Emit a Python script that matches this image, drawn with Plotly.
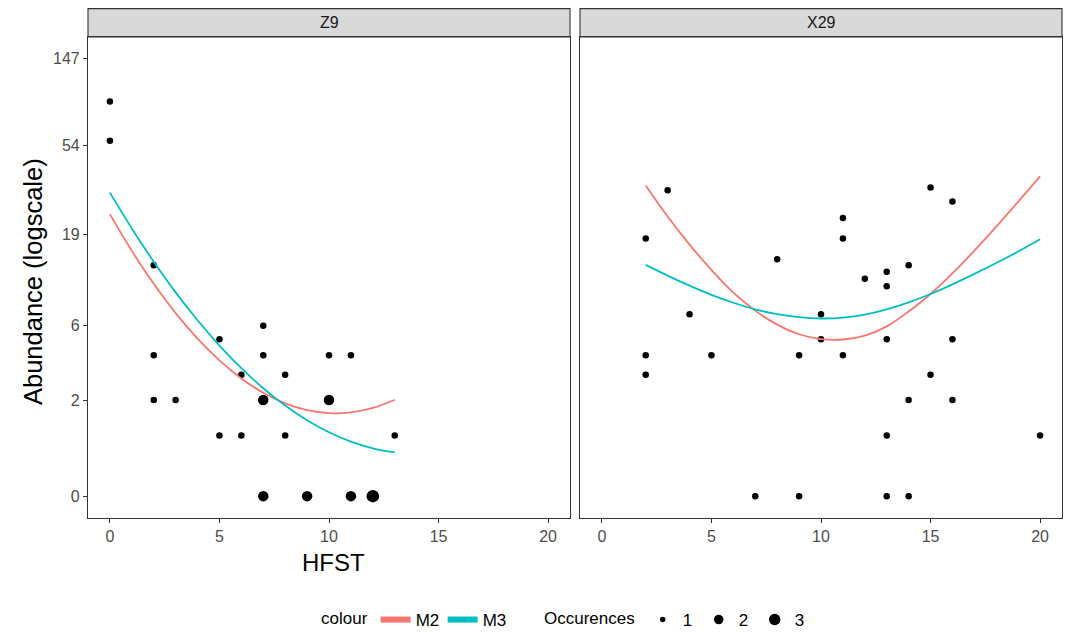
import numpy as np
import plotly.graph_objects as go

# page offset (browser body margin) and figure size
OFF = 8
W, H = 1074 - OFF, 638 - OFF

# ---------------- data ----------------
panels = ["Z9", "X29"]

# Z9 observed points: HFST, abundance, occurrences
z9_hfst = [0, 0, 2, 2, 2, 3, 5, 5, 6, 6, 7, 7, 7, 7, 8, 8, 9, 10, 10, 11, 11, 12, 13]
z9_abund = [90, 57, 13, 4, 2, 2, 5, 1, 3, 1, 6, 4, 2, 0, 3, 1, 0, 4, 2, 4, 0, 0, 1]
z9_occ = [1, 1, 1, 1, 1, 1, 1, 1, 1, 1, 1, 1, 2, 2, 1, 1, 2, 1, 2, 1, 2, 3, 1]

# X29 observed points
x29_hfst = [3, 2, 8, 4, 10, 10, 15, 16, 11, 11, 14, 12, 13, 13, 13, 16, 2, 5, 9, 11,
            2, 15, 14, 16, 13, 20, 7, 9, 13, 14]
x29_abund = [32, 18, 14, 7, 7, 5, 33, 28, 23, 18, 13, 11, 12, 10, 5, 5, 4, 4, 4, 4,
             3, 3, 2, 2, 1, 1, 0, 0, 0, 0]
x29_occ = [1] * 30

# fitted curves (values on the log(abundance + 1) scale)
z9_curve_x = [0, 1, 2, 3, 4, 5, 6, 7, 8, 9, 10, 11, 12, 13]
z9_m2_log = [3.223, 2.803, 2.426, 2.091, 1.800, 1.551, 1.345, 1.182, 1.061, 0.984, 0.949, 0.957, 1.008, 1.102]
z9_m3_log = [3.469, 3.059, 2.679, 2.329, 2.010, 1.721, 1.462, 1.233, 1.035, 0.867, 0.730, 0.623, 0.546, 0.500]

x29_curve_x = [2, 3, 4, 5, 6, 7, 8, 9, 10, 11, 12, 13, 14, 15, 16, 17, 18, 19, 20]
x29_m2_log = [3.55, 3.195, 2.875, 2.585, 2.325, 2.12, 1.96, 1.85, 1.795, 1.79, 1.835, 1.94, 2.11, 2.31, 2.545, 2.805, 3.08, 3.365, 3.655]
x29_m3_log = [2.643, 2.52, 2.405, 2.30, 2.21, 2.135, 2.08, 2.045, 2.03, 2.04, 2.075, 2.135, 2.215, 2.31, 2.42, 2.54, 2.665, 2.795, 2.935]

y_tick_labels = [0, 2, 6, 19, 54, 147]
x_ticks = [0, 5, 10, 15, 20]
occ_levels = [1, 2, 3]
models = ["M2", "M3"]

# ---------------- styles ----------------
model_colors = {"M2": "#F8766D", "M3": "#00BFC4"}
occ_sizes = {1: 6.5, 2: 10.5, 3: 12.5}
FONT = "Liberation Sans, Arial, sans-serif"


def px_x(p):
    return (p - OFF) / W


def px_y(p):
    return 1 - (p - OFF) / H


fig = go.Figure()

panel_data = [
    ("x", "y", z9_hfst, z9_abund, z9_occ, z9_curve_x, {"M2": z9_m2_log, "M3": z9_m3_log}),
    ("x2", "y2", x29_hfst, x29_abund, x29_occ, x29_curve_x, {"M2": x29_m2_log, "M3": x29_m3_log}),
]

for xa, ya, hx, ab, oc, cx, curves in panel_data:
    sizes = [occ_sizes[o] for o in oc]
    fig.add_trace(go.Scatter(
        x=hx, y=np.log1p(np.array(ab, dtype=float)), mode="markers",
        marker=dict(color="#000000", size=sizes, line=dict(width=0), opacity=1),
        xaxis=xa, yaxis=ya, showlegend=False, hoverinfo="skip"))
    for m in models:
        fig.add_trace(go.Scatter(
            x=cx, y=curves[m], mode="lines",
            line=dict(color=model_colors[m], width=1.8, shape="spline", smoothing=1.0),
            xaxis=xa, yaxis=ya, showlegend=False, hoverinfo="skip"))

# legend-only entries
for m in models:
    fig.add_trace(go.Scatter(
        x=[None], y=[None], mode="lines", name=m,
        line=dict(color=model_colors[m], width=6),
        legend="legend", showlegend=True))
for o in occ_levels:
    fig.add_trace(go.Scatter(
        x=[None], y=[None], mode="markers", name=str(o),
        marker=dict(color="#000000", size=occ_sizes[o] - 1),
        legend="legend2", showlegend=True))

# ---------------- layout ----------------
top_px, bot_px = 37, 518
p1 = (88, 570)
p2 = (580, 1062)
ydom = [px_y(bot_px), px_y(top_px)]

y_lo, y_hi = 0.0, float(np.log1p(147))
pad = 0.05 * (y_hi - y_lo)
yrange = [y_lo - pad, y_hi + pad]

axis_common = dict(
    showline=True, mirror=True, linecolor="#333333", linewidth=1.1,
    showgrid=False, zeroline=False,
    ticks="outside", ticklen=4, tickwidth=1, tickcolor="#333333",
    tickfont=dict(family=FONT, size=16, color="#4D4D4D"),
)

fig.update_layout(
    width=W, height=H,
    margin=dict(l=0, r=0, t=0, b=0),
    paper_bgcolor="white", plot_bgcolor="white",
    font=dict(family=FONT, color="#000000"),
    xaxis=dict(domain=[px_x(p1[0]), px_x(p1[1])], range=[-1, 21],
               tickvals=x_ticks, ticktext=[str(v) for v in x_ticks], anchor="y", **axis_common),
    xaxis2=dict(domain=[px_x(p2[0]), px_x(p2[1])], range=[-1, 21],
                tickvals=x_ticks, ticktext=[str(v) for v in x_ticks], anchor="y2", **axis_common),
    yaxis=dict(domain=ydom, range=yrange, anchor="x",
               tickvals=list(np.log1p(np.array(y_tick_labels, dtype=float))),
               ticktext=[str(v) for v in y_tick_labels], **axis_common),
    yaxis2=dict(domain=ydom, range=yrange, anchor="x2", matches="y",
                **{**axis_common, "ticks": "", "showticklabels": False}),
    legend=dict(
        orientation="h", x=px_x(319), y=px_y(620), xanchor="left", yanchor="middle",
        title=dict(text="colour", side="left", font=dict(family=FONT, size=17)),
        font=dict(family=FONT, size=17), bgcolor="rgba(0,0,0,0)",
        entrywidth=22, entrywidthmode="pixels", tracegroupgap=0),
    legend2=dict(
        orientation="h", x=px_x(542), y=px_y(620), xanchor="left", yanchor="middle",
        title=dict(text="Occurences", side="left", font=dict(family=FONT, size=17)),
        font=dict(family=FONT, size=17), bgcolor="rgba(0,0,0,0)",
        entrywidth=11, entrywidthmode="pixels", tracegroupgap=0),
)

# strips
shapes = []
annotations = []
for name, (a, b) in zip(panels, [p1, p2]):
    shapes.append(dict(type="rect", xref="paper", yref="paper",
                       x0=px_x(a), x1=px_x(b), y0=px_y(top_px), y1=px_y(OFF + 0.6),
                       fillcolor="#D9D9D9", line=dict(color="#333333", width=1.1), layer="below"))
    annotations.append(dict(text=name, xref="paper", yref="paper",
                            x=px_x((a + b) / 2), y=px_y(22), showarrow=False,
                            xanchor="center", yanchor="middle",
                            font=dict(family=FONT, size=16, color="#1A1A1A")))

# axis titles
annotations.append(dict(text="Abundance (logscale)", xref="paper", yref="paper",
                        x=px_x(33), y=px_y(282), textangle=-90,
                        showarrow=False, xanchor="center", yanchor="middle",
                        font=dict(family=FONT, size=25.5, color="#000000")))
annotations.append(dict(text="HFST", xref="paper", yref="paper",
                        x=px_x(333), y=px_y(562), showarrow=False,
                        xanchor="center", yanchor="middle",
                        font=dict(family=FONT, size=24, color="#000000")))

fig.update_layout(shapes=shapes, annotations=annotations)

fig.write_html("out.html")
